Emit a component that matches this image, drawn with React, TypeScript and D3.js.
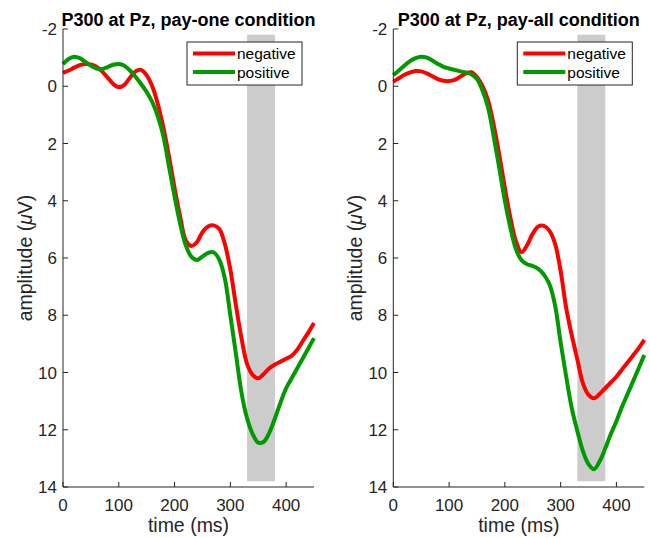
import * as d3 from "d3";

// time axis (ms)
const times = [0, 10, 20, 30, 40, 50, 60, 70, 80, 90, 100, 110, 120, 130, 140, 150, 160, 170, 180, 190, 200, 210, 220, 230, 240, 250, 260, 270, 280, 290, 300, 310, 320, 330, 340, 350, 360, 370, 380, 390, 400, 410, 420, 430, 440, 450];

// amplitudes (µV)
const payOneNegative = [-0.47, -0.55, -0.65, -0.74, -0.78, -0.76, -0.68, -0.52, -0.3, -0.08, 0.03, -0.05, -0.3, -0.52, -0.57, -0.38, 0.0, 0.62, 1.45, 2.45, 3.55, 4.55, 5.38, 5.58, 5.45, 5.1, 4.9, 4.86, 4.98, 5.5, 6.4, 7.65, 8.8, 9.7, 10.08, 10.2, 10.05, 9.85, 9.72, 9.62, 9.52, 9.42, 9.2, 8.9, 8.6, 8.27];
const payOnePositive = [-0.77, -0.95, -1.03, -0.98, -0.85, -0.72, -0.62, -0.6, -0.67, -0.75, -0.78, -0.72, -0.55, -0.33, -0.08, 0.2, 0.55, 1.05, 1.75, 2.8, 3.85, 4.8, 5.55, 5.95, 6.07, 5.95, 5.82, 5.8, 6.05, 6.7, 8.0, 9.35, 10.7, 11.6, 12.15, 12.45, 12.42, 12.1, 11.6, 11.05, 10.55, 10.2, 9.85, 9.5, 9.15, 8.8];
const payAllNegative = [-0.16, -0.28, -0.4, -0.48, -0.53, -0.52, -0.45, -0.35, -0.25, -0.19, -0.18, -0.22, -0.33, -0.45, -0.49, -0.32, 0.0, 0.5, 1.35, 2.4, 3.55, 4.6, 5.42, 5.8, 5.55, 5.15, 4.9, 4.88, 5.05, 5.5, 6.45, 7.75, 8.7, 9.55, 10.38, 10.78, 10.9, 10.75, 10.55, 10.35, 10.15, 9.9, 9.65, 9.4, 9.15, 8.86];
const payAllPositive = [-0.39, -0.55, -0.72, -0.88, -0.98, -1.03, -1.0, -0.9, -0.78, -0.68, -0.62, -0.57, -0.52, -0.48, -0.42, -0.25, 0.15, 0.75, 1.75, 2.85, 4.0, 4.95, 5.7, 6.08, 6.22, 6.28, 6.38, 6.58, 6.92, 7.65, 8.95, 10.15, 11.25, 12.05, 12.75, 13.2, 13.38, 13.1, 12.65, 12.15, 11.7, 11.2, 10.75, 10.3, 9.85, 9.39];

const xTicks = [0, 100, 200, 300, 400];
const yTicks = [-2, 0, 2, 4, 6, 8, 10, 12, 14];
const windowMs = [330, 380];
const windowAmp = [-1.8, 13.8];

const panels = [
  { title: "P300 at Pz, pay-one condition", neg: payOneNegative, pos: payOnePositive, left: 63 },
  { title: "P300 at Pz, pay-all condition", neg: payAllNegative, pos: payAllPositive, left: 393.3 },
];

const RED = "#ff0000";
const GREEN = "#009900";
const AXIS = "#262626";
const FONT = "'Liberation Sans', Arial, Helvetica, sans-serif";

const top = 29;
const bottom = 487;
const plotW = 251;

const Panel = ({ p }) => {
  const x = d3.scaleLinear().domain([0, 450]).range([p.left, p.left + plotW]);
  const y = d3.scaleLinear().domain([-2, 14]).range([top, bottom]);
  const line = d3
    .line()
    .x((d) => x(d[0]))
    .y((d) => y(d[1]))
    .curve(d3.curveCatmullRom.alpha(0.5));
  const negPts = times.map((t, i) => [t, p.neg[i]]);
  const posPts = times.map((t, i) => [t, p.pos[i]]);
  const cx = p.left + plotW / 2;
  const lgX = p.left + 124;
  const lgY = 42;

  return (
    <g>
      <rect
        x={x(windowMs[0])}
        y={y(windowAmp[0])}
        width={x(windowMs[1]) - x(windowMs[0])}
        height={y(windowAmp[1]) - y(windowAmp[0])}
        fill="#cccccc"
      />
      <path d={line(negPts)} fill="none" stroke={RED} strokeWidth={4} />
      <path d={line(posPts)} fill="none" stroke={GREEN} strokeWidth={4} />

      {/* axes */}
      <line x1={p.left} x2={p.left} y1={top} y2={bottom} stroke={AXIS} strokeWidth={1} />
      <line x1={p.left} x2={p.left + plotW} y1={bottom} y2={bottom} stroke={AXIS} strokeWidth={1} />
      {yTicks.map((t) => (
        <g key={"y" + t}>
          <line x1={p.left} x2={p.left + 5} y1={y(t)} y2={y(t)} stroke={AXIS} />
          <text x={p.left - 6} y={y(t)} dy="0.36em" textAnchor="end" fontSize={17} fill={AXIS}>
            {t}
          </text>
        </g>
      ))}
      {xTicks.map((t) => (
        <g key={"x" + t}>
          <line x1={x(t)} x2={x(t)} y1={bottom} y2={bottom - 5} stroke={AXIS} />
          <text x={x(t)} y={511} textAnchor="middle" fontSize={17} fill={AXIS}>
            {t}
          </text>
        </g>
      ))}

      <text x={cx} y={532} textAnchor="middle" fontSize={19.5} fill={AXIS}>
        time (ms)
      </text>
      <text
        transform={`translate(${p.left - 31},${(top + bottom) / 2}) rotate(-90)`}
        textAnchor="middle"
        fontSize={19.5}
        fill={AXIS}
      >
        amplitude (<tspan fontStyle="italic">μ</tspan>V)
      </text>
      <text x={cx} y={26} textAnchor="middle" fontSize={18} fontWeight="bold" fill="#000">
        {p.title}
      </text>

      {/* legend */}
      <rect x={lgX} y={lgY} width={115} height={43} fill="#fff" stroke={AXIS} strokeWidth={1} />
      <line x1={lgX + 6} x2={lgX + 48} y1={lgY + 11.5} y2={lgY + 11.5} stroke={RED} strokeWidth={4} />
      <line x1={lgX + 6} x2={lgX + 48} y1={lgY + 30} y2={lgY + 30} stroke={GREEN} strokeWidth={4} />
      <text x={lgX + 50} y={lgY + 11.5} dy="0.36em" fontSize={15.5} fill="#000">
        negative
      </text>
      <text x={lgX + 50} y={lgY + 30} dy="0.36em" fontSize={15.5} fill="#000">
        positive
      </text>
    </g>
  );
};

export default function App() {
  return (
    <svg
      width={650}
      height={538}
      style={{ position: "absolute", left: 0, top: 0, background: "#fff" }}
      fontFamily={FONT}
    >
      {panels.map((p) => (
        <Panel key={p.title} p={p} />
      ))}
    </svg>
  );
}
